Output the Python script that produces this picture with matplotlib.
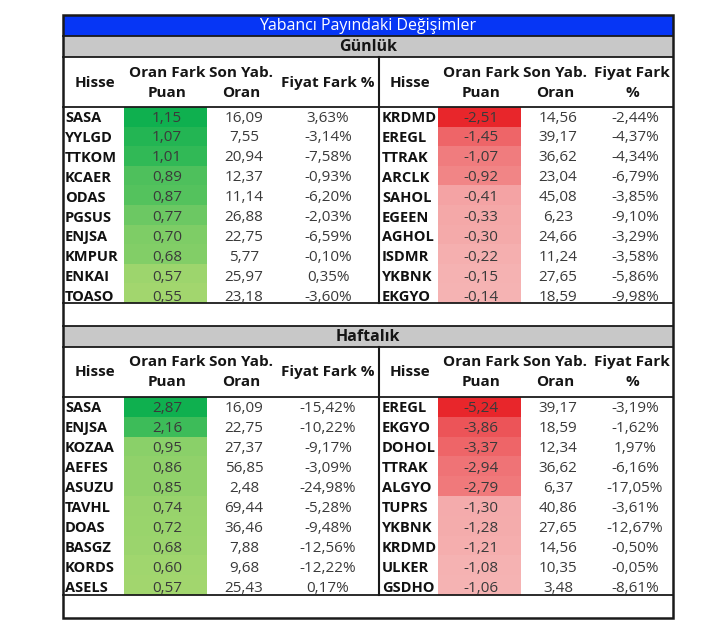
import matplotlib
matplotlib.use("Agg")
import matplotlib.pyplot as plt
from matplotlib.patches import Rectangle
from matplotlib.colors import LinearSegmentedColormap, Normalize

plt.rcParams['font.family'] = ['Open Sans', 'DejaVu Sans']

title = "Yabancı Payındaki Değişimler"
section_titles = ["Günlük", "Haftalık"]

# Daily - gainers
d_pos_tick = ["SASA", "YYLGD", "TTKOM", "KCAER", "ODAS", "PGSUS", "ENJSA", "KMPUR", "ENKAI", "TOASO"]
d_pos_diff = [1.15, 1.07, 1.01, 0.89, 0.87, 0.77, 0.70, 0.68, 0.57, 0.55]
d_pos_last = [16.09, 7.55, 20.94, 12.37, 11.14, 26.88, 22.75, 5.77, 25.97, 23.18]
d_pos_price = [3.63, -3.14, -7.58, -0.93, -6.20, -2.03, -6.59, -0.10, 0.35, -3.60]
# Daily - losers
d_neg_tick = ["KRDMD", "EREGL", "TTRAK", "ARCLK", "SAHOL", "EGEEN", "AGHOL", "ISDMR", "YKBNK", "EKGYO"]
d_neg_diff = [-2.51, -1.45, -1.07, -0.92, -0.41, -0.33, -0.30, -0.22, -0.15, -0.14]
d_neg_last = [14.56, 39.17, 36.62, 23.04, 45.08, 6.23, 24.66, 11.24, 27.65, 18.59]
d_neg_price = [-2.44, -4.37, -4.34, -6.79, -3.85, -9.10, -3.29, -3.58, -5.86, -9.98]
# Weekly - gainers
w_pos_tick = ["SASA", "ENJSA", "KOZAA", "AEFES", "ASUZU", "TAVHL", "DOAS", "BASGZ", "KORDS", "ASELS"]
w_pos_diff = [2.87, 2.16, 0.95, 0.86, 0.85, 0.74, 0.72, 0.68, 0.60, 0.57]
w_pos_last = [16.09, 22.75, 27.37, 56.85, 2.48, 69.44, 36.46, 7.88, 9.68, 25.43]
w_pos_price = [-15.42, -10.22, -9.17, -3.09, -24.98, -5.28, -9.48, -12.56, -12.22, 0.17]
# Weekly - losers
w_neg_tick = ["EREGL", "EKGYO", "DOHOL", "TTRAK", "ALGYO", "TUPRS", "YKBNK", "KRDMD", "ULKER", "GSDHO"]
w_neg_diff = [-5.24, -3.86, -3.37, -2.94, -2.79, -1.30, -1.28, -1.21, -1.08, -1.06]
w_neg_last = [39.17, 18.59, 12.34, 36.62, 6.37, 40.86, 27.65, 14.56, 10.35, 3.48]
w_neg_price = [-3.19, -1.62, 1.97, -6.16, -17.05, -3.61, -12.67, -0.50, -0.05, -8.61]

left_headers = [("Hisse",), ("Oran Fark", "Puan"), ("Son Yab.", "Oran"), ("Fiyat Fark %",)]
right_headers = [("Hisse",), ("Oran Fark", "Puan"), ("Son Yab.", "Oran"), ("Fiyat Fark", "%")]

green_cmap = LinearSegmentedColormap.from_list("g", ["#a2d66e", "#0fb04f"])
red_cmap = LinearSegmentedColormap.from_list("r", ["#f5b3b3", "#e8262b"])

def fmt(v):
    return f"{v:.2f}".replace(".", ",")

def fmtp(v):
    return f"{v:.2f}%".replace(".", ",")

fig = plt.figure(figsize=(7.2, 6.33), dpi=100)
ax = fig.add_axes([0, 0, 1, 1])
ax.set_xlim(0, 720)
ax.set_ylim(633, 0)
ax.axis("off")

X0, X1, XM = 63, 673, 379
CX = 368
LINE = "#1a1a1a"
VAL = "#3a3a3a"
HEAD = "#151515"

# title bar
ax.add_patch(Rectangle((X0, 15), X1 - X0, 21, facecolor="#0636f5", edgecolor="none"))
ax.text(CX, 25.5, title, ha="center", va="center", color="white", fontsize=11.5)

def section(ytop, name, pos, neg, rh_text0, rh_step, data_top, data_bot, head_y):
    ax.add_patch(Rectangle((X0, ytop), X1 - X0, 21, facecolor="#c8c8c8", edgecolor="none"))
    ax.text(CX, ytop + 11, name, ha="center", va="center", fontsize=11.5, fontweight="bold", color=HEAD)
    lcx = [95, 167, 241, 328]
    rcx = [410, 481, 555, 632]
    for hdrs, cxs in ((left_headers, lcx), (right_headers, rcx)):
        for h, cx in zip(hdrs, cxs):
            if len(h) == 1:
                ax.text(cx, head_y, h[0], ha="center", va="center", fontsize=11, fontweight="bold", color=HEAD)
            else:
                ax.text(cx, head_y - 10, h[0], ha="center", va="center", fontsize=11, fontweight="bold", color=HEAD)
                ax.text(cx, head_y + 10, h[1], ha="center", va="center", fontsize=11, fontweight="bold", color=HEAD)
    cell_h = (data_bot - data_top) / 10
    for (tick, diff, last, price), cmap, xl, cell_x, cols in (
        (pos, green_cmap, 65, (124, 207), (167, 244, 328)),
        (neg, red_cmap, 382, (438, 521), (481, 558, 635)),
    ):
        absd = [abs(d) for d in diff]
        norm = Normalize(min(absd), max(absd))
        for i in range(10):
            ax.add_patch(Rectangle((cell_x[0], data_top + i * cell_h), cell_x[1] - cell_x[0], cell_h,
                                   facecolor=cmap(norm(absd[i])), edgecolor="none"))
            y = rh_text0 + i * rh_step
            ax.text(xl, y, tick[i], ha="left", va="center", fontsize=10.5, fontweight="bold", color="#111111")
            ax.text(cols[0], y, fmt(diff[i]), ha="center", va="center", fontsize=11, color=VAL)
            ax.text(cols[1], y, fmt(last[i]), ha="center", va="center", fontsize=11, color=VAL)
            ax.text(cols[2], y, fmtp(price[i]), ha="center", va="center", fontsize=11, color=VAL)
    for yy in (ytop, ytop + 21, data_top, data_bot):
        ax.plot([X0, X1], [yy, yy], color=LINE, lw=1.3)
    ax.plot([XM, XM], [ytop + 21, data_bot], color=LINE, lw=1.5)

section(36, section_titles[0], (d_pos_tick, d_pos_diff, d_pos_last, d_pos_price),
        (d_neg_tick, d_neg_diff, d_neg_last, d_neg_price), 118, 19.9, 107, 303, 83)
section(326, section_titles[1], (w_pos_tick, w_pos_diff, w_pos_last, w_pos_price),
        (w_neg_tick, w_neg_diff, w_neg_last, w_neg_price), 408, 20, 397, 595, 372)

ax.add_patch(Rectangle((X0, 15), X1 - X0, 618 - 15, facecolor="none", edgecolor=LINE, lw=1.8))

fig.savefig("out.png", dpi=100)
